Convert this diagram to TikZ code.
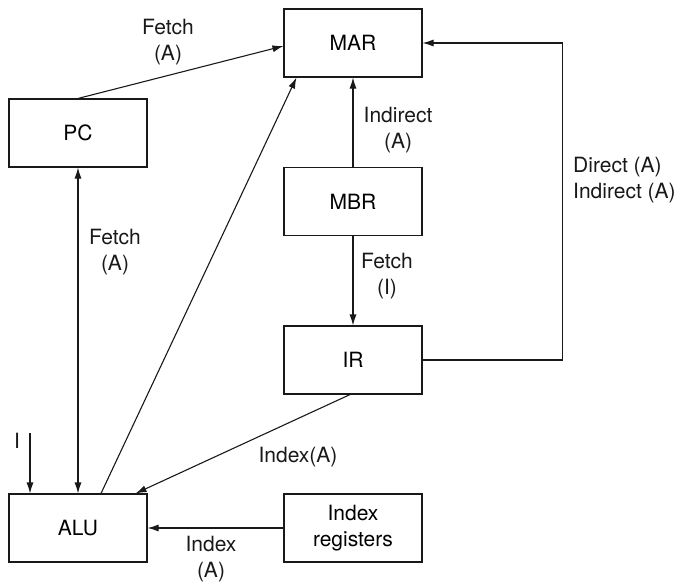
\documentclass[tikz,border=0pt]{standalone}
\usepackage{fontspec}
\setmainfont{TeX Gyre Heros}
\usetikzlibrary{arrows.meta}
\begin{document}
\begin{tikzpicture}[x=1pt,y=-1pt,
  box/.style={draw=black!90,line width=1.1pt,minimum width=138pt,minimum height=68pt,inner sep=0pt,align=center,font=\fontsize{21}{26}\selectfont},
  lbl/.style={align=center,inner sep=0pt,font=\fontsize{21}{26}\selectfont,text=black!90},
  conn/.style={draw=black!90,line width=1.1pt},
  arr/.style={conn,-{Latex[length=11pt,width=7pt]}}]
\useasboundingbox (0,0) rectangle (677,584);
\node[box] (MAR) at (353,43) {MAR};
\node[box] (PC) at (78,133) {PC};
\node[box] (MBR) at (353,201.5) {MBR};
\node[box] (IR) at (353,360) {IR};
\node[box] (ALU) at (78,528) {ALU};
\node[box] (IDX) at (353,528) {Index\\registers};
\coordinate (Iin) at (30,433);
% connectors
\draw[arr] (PC.north) -- ([yshift=-3pt]MAR.west);
\draw[arr] ([xshift=23pt]ALU.north) -- ([xshift=13pt]MAR.south west);
\draw[conn,{Latex[length=11pt,width=7pt]}-{Latex[length=11pt,width=7pt]}] (PC.south) -- (ALU.north);
\draw[arr] (MBR.north) -- (MAR.south);
\draw[arr] (MBR.south) -- (IR.north);
\draw[arr] (IR.east) -- ++(140,0) |- (MAR.east);
\draw[arr] ([xshift=-3pt]IR.south) -- ([xshift=-12pt]ALU.north east);
\draw[arr] (IDX.west) -- (ALU.east);
\draw[arr] (Iin) -- (Iin |- ALU.north);
% labels
\node[lbl] (l1) at (168,42) {Fetch\\(A)};
\node[lbl] (l2) at (115,252) {Fetch\\(A)};
\node[lbl] (l3) at (398,130) {Indirect\\(A)};
\node[lbl,anchor=west,align=left] (l4) at (573,180) {Direct (A)\\Indirect (A)};
\node[lbl] (l5) at (387,276) {Fetch\\(I)};
\node[lbl] (l6) at (298,457) {Index(A)};
\node[lbl] (l7) at (211,559) {Index\\(A)};
\node[lbl] (l8) at (17,441) {I};
\end{tikzpicture}
\end{document}
